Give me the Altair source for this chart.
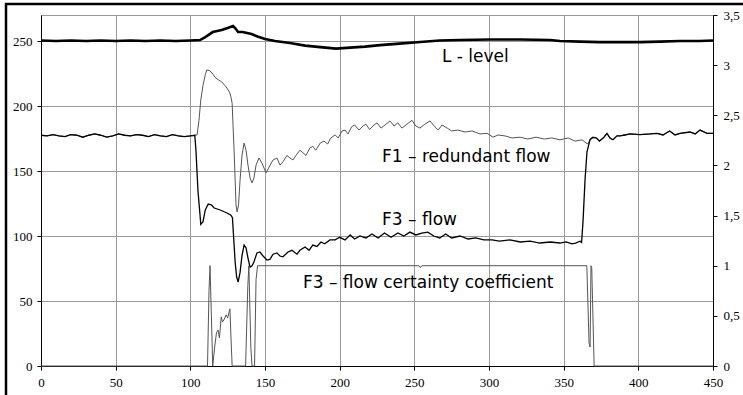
import altair as alt
import pandas as pd

# ---- data ----
# common part of F1 / F3 before the disturbance
base_x = [0, 4, 8, 12, 16, 20, 24, 28, 32, 36, 40, 44, 48, 52, 56, 60, 64, 68, 72, 76,
          80, 84, 88, 92, 96, 100, 103]
base_v = [177.5, 177, 178, 177, 176.5, 178, 177.5, 176, 177.5, 178.5, 177.5, 176, 177,
          178.5, 177.5, 177, 178, 177.5, 176.5, 178, 177, 176.5, 178, 177, 176.5, 177, 177.5]

# F3 - flow, disturbed part
f3_mid_x = [103.8, 105.1, 106.5, 107, 108.5, 110, 112, 114, 116, 120, 124.5, 127.2, 128.2, 129,
            130, 131, 132, 133.3, 134.6, 136, 137.3, 138.6, 140, 141.3, 142.6, 144.6, 146.6,
            148.7, 151.3, 153.3, 155.4, 158, 160, 162, 165.4, 168, 171.4, 173.4, 176.8, 179.5,
            182, 184.8, 187.5, 190, 193.5, 197, 200, 203.6, 207, 210, 213.6, 217.6, 221.6,
            225.7, 230, 234.4, 239, 243, 247, 251, 255, 259, 263, 267, 271, 275, 280.6, 286,
            291, 296.6, 302, 307, 314, 321, 327.5, 334, 341, 347.5, 351.6, 355.6, 358, 361,
            362, 363, 364.3, 365.6, 367.6, 369.6]
f3_mid_v = [165, 135, 116, 109, 111, 120, 124.6, 124, 121.5, 120, 117.7, 116, 114, 99, 80, 68.5,
            64.6, 72, 85, 93, 91, 83, 76, 77, 80, 87, 87.7, 84.6, 81.5, 82, 86, 87, 84.6, 84,
            87.7, 89, 86, 89, 91.5, 89, 93, 92, 95.4, 94, 97, 97, 99, 97, 100.8, 97.7, 100,
            98.5, 101.5, 98.5, 102.3, 99, 102.3, 100, 103, 100.8, 102.3, 103, 100, 98.5, 101.5,
            98.5, 100, 97.7, 98.5, 97, 97, 96, 97, 95.4, 96, 94.6, 95.4, 94.6, 95.4, 94, 94.6,
            96, 95, 112, 143, 164.6, 174, 176]

# F1 - redundant flow, disturbed part
f1_mid_x = [104.5, 105.8, 107, 108.5, 110, 111, 113, 115, 117, 119, 121, 124, 126.2, 127.2, 128,
            128.6, 129.3, 130, 130.6, 131.3, 132.3, 133.3, 134.6, 136, 137.3, 138.6, 140, 141.3,
            142.6, 144, 146, 148, 150.7, 152.7, 155.4, 158, 160, 162, 164.7, 166.7, 168.7,
            171.4, 173.4, 175.4, 177.5, 180, 182, 184, 187, 189.5, 192, 194, 197, 199, 201.6,
            203.6, 205.6, 208, 210, 213, 215.6, 217.6, 220, 223, 225, 227.7, 231, 233.7, 236.4,
            239, 241.7, 245, 248.4, 251, 253.8, 257, 260.5, 263.8, 266, 268.5, 272, 275, 279,
            284, 288.6, 294, 298.7, 302.7, 306, 310.7, 315.4, 320.8, 326, 331.5, 337, 342,
            347.5, 353, 357.6, 362.3, 365, 366.3, 368.3]
f1_mid_v = [177.7, 189, 204.6, 216, 224, 227.7, 227.3, 224.6, 221.5, 220, 218.5, 214.6, 210.8,
            207, 202, 185, 166, 143, 124, 118.5, 124, 143, 162, 171.5, 166, 154.6, 144.6, 140.8,
            144.6, 154.6, 160, 156, 148.5, 153, 158.5, 160, 154.6, 157, 162, 160, 158.5, 163,
            166, 164, 162, 167.7, 169, 166, 171.5, 173, 170.8, 175.4, 177.7, 175.4, 180.8,
            181.5, 178.5, 184, 185.4, 181.5, 184.6, 186, 182, 185.4, 187, 183, 186, 188.5,
            184.6, 187, 183, 186, 189, 184.6, 183, 186, 188.5, 184, 181.5, 185.4, 183, 180.8,
            181.5, 180, 180.8, 178.5, 179, 176, 177.7, 177, 175.4, 176, 174.6, 176, 174.6,
            175.4, 174, 175.4, 173, 174, 171.5, 170.8, 175.4]

# common part of F1 / F3 after recovery
tail_x = [372, 374, 377, 379, 381, 383, 385.7, 387.7, 391, 394.4, 401, 408, 412.5, 416.5, 421,
          424.6, 428, 434.6, 438, 441.3, 446, 450]
tail_v = [175.4, 173, 176, 179, 175.4, 174, 177, 177, 177.7, 178.5, 178, 178.5, 179, 177.7,
          180.8, 177.7, 179, 180, 178.5, 181.5, 179, 179]

# L - level (right axis)
lvl_x = [0, 10, 20, 30, 40, 50, 60, 70, 80, 90, 100, 106.5, 110, 115, 118, 121, 125, 128.6, 130,
         132, 135, 138, 141, 145, 150, 156.7, 166.7, 176.8, 187, 197.5, 207, 217, 227, 240,
         254, 267, 280.6, 300.7, 321, 341, 347.5, 361, 374, 387.7, 401, 414.5, 428, 441, 450]
lvl_v = [3.245, 3.24, 3.245, 3.24, 3.245, 3.24, 3.245, 3.24, 3.245, 3.24, 3.245, 3.25, 3.28,
         3.33, 3.34, 3.35, 3.37, 3.39, 3.37, 3.33, 3.33, 3.32, 3.31, 3.285, 3.26, 3.24, 3.22,
         3.195, 3.18, 3.165, 3.175, 3.185, 3.2, 3.215, 3.23, 3.245, 3.25, 3.255, 3.255, 3.25,
         3.24, 3.235, 3.23, 3.23, 3.23, 3.235, 3.24, 3.24, 3.245]

# F3 - flow certainty coefficient (right axis)
cert_x = [0, 111.5, 112.5, 113.2, 114, 115, 116.3, 117.5, 118.5, 119.5, 120.7, 121.5, 122.5,
          124, 125, 126.5, 127.2, 128, 137, 138.5, 139.2, 140.5, 141.3, 143, 144, 145, 253, 254,
          255, 365.5, 367, 367.7, 368.3, 368.8, 370.4, 450]
cert_v = [0, 0, 0.75, 1.0, 0.55, 0, 0.19, 0.33, 0.36, 0.28, 0.49, 0.44, 0.46, 0.51, 0.48, 0.57,
          0.29, 0, 0, 0.8, 1.0, 0.19, 0, 0, 0.86, 1.0, 1.0, 0.98, 1.0, 1.0, 0.23, 0.19, 1.0,
          0.98, 0, 0]

# annotations (in left-axis units)
ann_text = ["L - level", "F1 \u2013 redundant flow", "F3 \u2013 flow",
            "F3 \u2013 flow certainty  coefficient"]
ann_x = [268.5, 228.4, 228.4, 175.4]
ann_y = [233.8, 157, 108.5, 60]

x_ticks = [0, 50, 100, 150, 200, 250, 300, 350, 400, 450]
left_ticks = [0, 50, 100, 150, 200, 250]
right_ticks = [0, 0.5, 1, 1.5, 2, 2.5, 3, 3.5]

# ---- tables ----
f1_df = pd.DataFrame({"x": base_x + f1_mid_x + tail_x, "v": base_v + f1_mid_v + tail_v})
f3_df = pd.DataFrame({"x": base_x + f3_mid_x + tail_x, "v": base_v + f3_mid_v + tail_v})
lvl_df = pd.DataFrame({"x": lvl_x, "v": lvl_v})
cert_df = pd.DataFrame({"x": cert_x, "v": cert_v})
ann_df = pd.DataFrame({"x": ann_x, "v": ann_y, "label": ann_text})

GRID = "#9a9a9a"
SERIF = "'Liberation Serif', 'Times New Roman', serif"
axis_common = dict(title=None, domainColor="black", domainWidth=1, tickColor="black",
                   tickSize=4, labelFont=SERIF, labelFontSize=13,
                   labelColor="black")

x_enc = alt.X("x:Q", scale=alt.Scale(domain=[0, 450], nice=False, zero=False),
              axis=alt.Axis(values=x_ticks, grid=True, gridColor=GRID, labelPadding=6,
                            labelFlush=False, **axis_common))
y_left = alt.Y("v:Q", scale=alt.Scale(domain=[0, 270], nice=False),
               axis=alt.Axis(values=left_ticks, grid=True, gridColor=GRID, labelPadding=5,
                             **axis_common))
y_right = alt.Y("v:Q", scale=alt.Scale(domain=[0, 3.5], nice=False),
                axis=alt.Axis(orient="right", values=right_ticks, grid=False, labelPadding=6,
                              labelExpr="replace(toString(datum.value), '.', ',')",
                              **axis_common))

f1_line = alt.Chart(f1_df).mark_line(color="#555555", strokeWidth=1).encode(x=x_enc, y=y_left)
f3_line = alt.Chart(f3_df).mark_line(color="black", strokeWidth=1.3).encode(x=x_enc, y=y_left)
labels = alt.Chart(ann_df).mark_text(align="left", baseline="alphabetic", font="DejaVu Sans",
                                     fontSize=17, color="black").encode(
    x=x_enc, y=y_left, text="label:N")
left = alt.layer(f1_line, f3_line, labels)

cert_line = alt.Chart(cert_df).mark_line(color="#555555", strokeWidth=1).encode(x=x_enc, y=y_right)
lvl_line = alt.Chart(lvl_df).mark_line(color="black", strokeWidth=2.6).encode(x=x_enc, y=y_right)
right = alt.layer(cert_line, lvl_line)

frame = alt.Chart(alt.Data(values=[{}])).mark_rect(
    fillOpacity=0, stroke="black", strokeWidth=2.5).encode(
    x=alt.value(-35), x2=alt.value(800), y=alt.value(-11), y2=alt.value(450))

chart = alt.layer(left, right, frame).resolve_scale(y="independent").properties(
    width=672, height=351,
    padding={"left": 41, "top": 15, "right": 30, "bottom": 29},
    autosize=alt.AutoSizeParams(type="none"),
    background="white",
).configure_view(stroke=GRID, strokeWidth=1).configure_axis(labelFont=SERIF)

chart.save("out.html", embed_options={"renderer": "svg", "actions": False})
